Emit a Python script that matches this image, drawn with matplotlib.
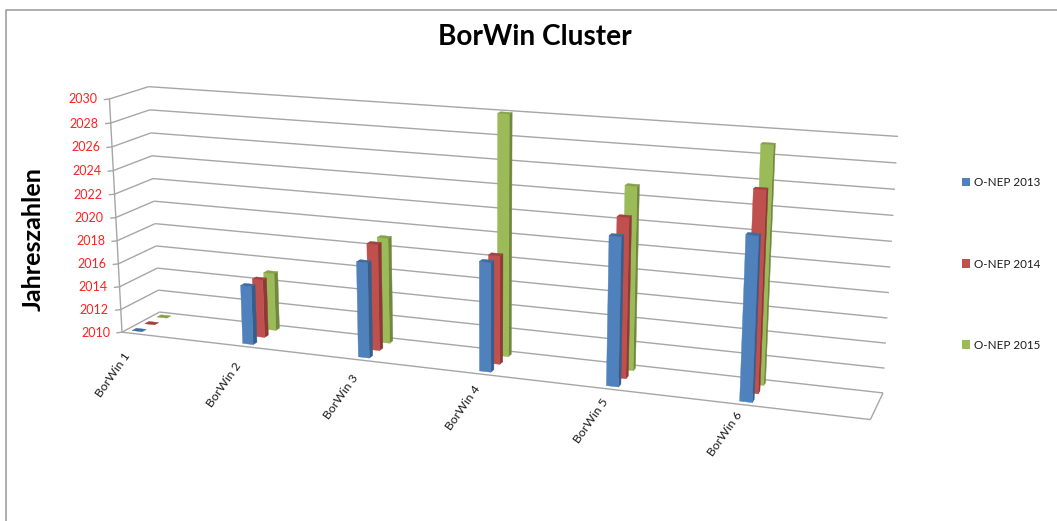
import matplotlib
matplotlib.use('Agg')
import matplotlib.pyplot as plt
from matplotlib.patches import Patch, Polygon
import numpy as np

plt.rcParams['font.family'] = ['Lato', 'DejaVu Sans']

categories = ['BorWin 1', 'BorWin 2', 'BorWin 3', 'BorWin 4', 'BorWin 5', 'BorWin 6']
series_names = ['O-NEP 2013', 'O-NEP 2014', 'O-NEP 2015']
onep_2013 = [2010, 2015, 2018, 2019, 2022, 2023]
onep_2014 = [2010, 2015, 2019, 2019, 2023, 2026]
onep_2015 = [2010, 2015, 2019, 2030, 2025, 2029]
year_ticks = list(range(2010, 2031, 2))

front_cols = ['#4F81BD', '#C0504D', '#9BBB59']
side_cols = ['#385D8A', '#8C3A38', '#71893F']
top_cols = ['#3F6C9F', '#A2413E', '#84A04A']
grid_col = '#A6A6A6'

# camera of the 3D box: scene point (x, height, depth) -> picture position
scene = np.array([
    [0, 0, 0], [0, 0, 1], [0, 1, 0], [0, 1, 1],
    [6, 0, 0], [6, 0, 1], [6, 1, 1],
    [1.1, 0, 0.1], [3.1, 0, 0.1], [5.1, 0, 0.1],
], dtype=float)
image = np.array([
    [122, 332], [159, 312], [109, 99], [149, 87],
    [870, 420], [883, 393], [898, 136],
    [248, 344], [485, 372], [746, 402],
], dtype=float)

rows = []
for (a, b, c), (u, v) in zip(scene, image):
    rows.append([a, b, c, 1, 0, 0, 0, 0, -u*a, -u*b, -u*c, -u])
    rows.append([0, 0, 0, 0, a, b, c, 1, -v*a, -v*b, -v*c, -v])
cam = np.linalg.svd(np.array(rows))[2][-1].reshape(3, 4)


def proj(x, year, z):
    p = cam @ np.array([x, (year - 2010) / 20, z, 1.0])
    return p[0] / p[2], p[1] / p[2]


def line3(ax, a, b, zorder=1):
    xs, ys = zip(proj(*a), proj(*b))
    ax.plot(xs, ys, color=grid_col, lw=1.0, zorder=zorder, solid_capstyle='butt')


def bar3(ax, x, val, z, s, zorder):
    hw = 0.046
    hd = 0.055
    x0, x1 = x - hw, x + hw
    z0, z1 = z - hd, z + hd
    lo, hi = 2010, val
    front = [proj(x0, lo, z0), proj(x1, lo, z0), proj(x1, hi, z0), proj(x0, hi, z0)]
    side = [proj(x1, lo, z0), proj(x1, lo, z1), proj(x1, hi, z1), proj(x1, hi, z0)]
    top = [proj(x0, hi, z0), proj(x1, hi, z0), proj(x1, hi, z1), proj(x0, hi, z1)]
    if val > lo:
        ax.add_patch(Polygon(side, fc=side_cols[s], ec=side_cols[s], lw=0.3, zorder=zorder))
        ax.add_patch(Polygon(front, fc=front_cols[s], ec=front_cols[s], lw=0.3, zorder=zorder))
        ax.add_patch(Polygon(top, fc=top_cols[s], ec=top_cols[s], lw=0.3, zorder=zorder))
    else:
        # no height left, only the lid on the floor shows
        ax.add_patch(Polygon(top, fc=top_cols[s], ec=top_cols[s], lw=0.3, zorder=zorder))


fig = plt.figure(figsize=(10.57, 5.21), dpi=100)
ax = fig.add_axes([0, 0, 1, 1])
ax.set_xlim(0, 1057)
ax.set_ylim(521, 0)
ax.axis('off')

# outer chart frame, only top and left are in view
ax.plot([6, 6, 1057], [521, 9.5, 9.5], color='#A0A0A0', lw=1.2)

# walls and floor
for yr in year_ticks:
    line3(ax, (0, yr, 0), (0, yr, 1))
    line3(ax, (0, yr, 1), (6, yr, 1))
    tx, ty = proj(0, yr, 0)
    ax.plot([tx - 5, tx], [ty + 0.6, ty], color=grid_col, lw=1.0, zorder=1)
    ax.text(tx - 12, ty + 0.5, str(yr), color='#FF2020', fontsize=9, ha='right', va='center')
line3(ax, (0, 2010, 0), (0, 2030, 0))
line3(ax, (0, 2010, 0), (6, 2010, 0))
line3(ax, (6, 2010, 0), (6, 2010, 1))

# columns, back row first so the nearer ones cover them
all_series = [onep_2013, onep_2014, onep_2015]
for s in [2, 1, 0]:
    z = (2 * s + 1) / 6
    for i, val in enumerate(all_series[s]):
        bar3(ax, i + 0.1, val, z, s, zorder=5 + (2 - s))

for i, name in enumerate(categories):
    bx, by = proj(i + 0.1, 2010, 0)
    ax.text(bx - 5 + 0.2 * i, by + 20 - 2.4 * i, name, fontsize=8.8, color='#1A1A1A',
            rotation=55, rotation_mode='anchor', ha='right', va='center')

ax.text(535, 37, 'BorWin Cluster', fontsize=20.2, fontweight='bold', color='black',
        ha='center', va='center')
ax.text(33, 239, 'Jahreszahlen', fontsize=18.2, fontweight='bold', color='black',
        rotation=90, ha='center', va='center')

handles = [Patch(fc=c, ec='none') for c in front_cols]
ax.legend(handles, series_names, loc='center left', bbox_to_anchor=(962, 264),
          bbox_transform=ax.transData, frameon=False, fontsize=8.4, labelspacing=6.02,
          handlelength=0.72, handleheight=0.72, handletextpad=0.35,
          borderpad=0, borderaxespad=0, labelcolor='#1A1A1A')

fig.savefig('out.png', dpi=100)
